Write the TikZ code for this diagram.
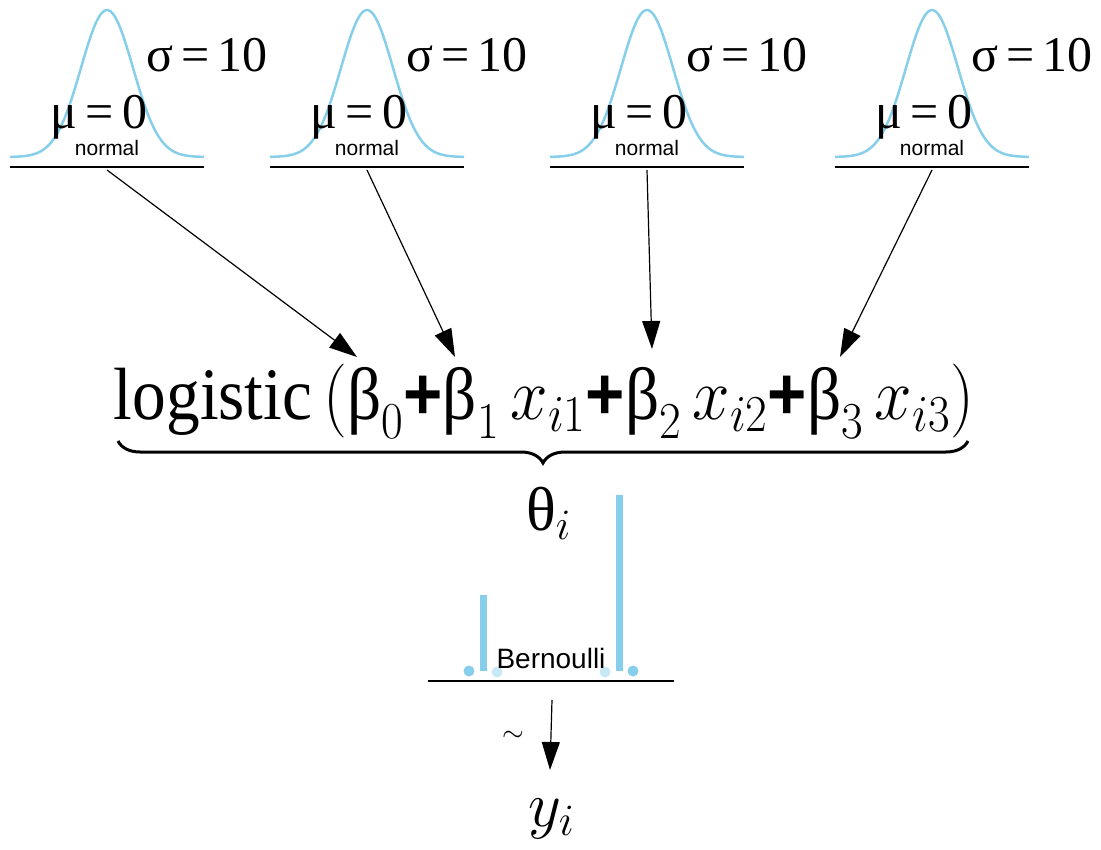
\RequirePackage{fix-cm}
\documentclass[tikz,border=0pt]{standalone}
\usepackage{fontspec}
\usepackage{graphicx}
\setmainfont{Liberation Serif}
\setsansfont{Liberation Sans}
\usetikzlibrary{arrows.meta,decorations.pathreplacing}

\definecolor{skyblue}{RGB}{135,206,235}
\definecolor{paleblue}{RGB}{200,232,246}

\newcommand*{\ybase}{157}
\newcommand*{\bt}[1]{\mbox{β}_{#1}}
\newcommand*{\pl}{\mbox{\sffamily\bfseries +}}

\begin{document}
\begin{tikzpicture}
[
	x=1pt,
	y=-1pt,
	density/.style={skyblue,line width=2.5pt},
	groundline/.style={black,line width=1.5pt},
	parlabel/.style={font=\fontsize{50}{50}\selectfont,inner sep=0pt,anchor=base},
	distname/.style={font=\sffamily\fontsize{21}{21}\selectfont,inner sep=0pt,anchor=base},
	link/.style={-{Triangle[length=28pt,width=18pt]},line width=1.2pt},
	stem/.style={skyblue,line width=7pt},
	underbrace/.style={decorate,decoration={brace,amplitude=22pt,mirror},line width=3pt}
]

	\useasboundingbox (0,0) rectangle (1101,850);

	% normal priors
	\foreach \cx/\nm in {107/pa,367/pb,647/pc,932/pd}{
		\draw[density] plot[domain=-97:97,samples=80] ({\cx+\x},{\ybase-147*exp(-(\x/26)^2/2)});
		\draw[groundline] (\cx-97,167) -- (\cx+97,167);
		\node[parlabel] at (\cx+100,72) {σ\,=\,10};
		\node[parlabel] at (\cx-8,129) {μ\,=\,0};
		\node[distname] at (\cx,156) {normal};
		\coordinate (\nm) at (\cx,170);
	}

	% linear predictor
	\node[inner sep=0pt,anchor=base,font=\fontsize{74}{80}\selectfont] (lin) at (544,420)
	  {\resizebox{860pt}{\height}{$\mbox{logistic}\left(\bt0\pl\bt1\,x_{i1}\pl\bt2\,x_{i2}\pl\bt3\,x_{i3}\right)$}};

	\coordinate (b0) at (357,357);
	\coordinate (b1) at (455,357);
	\coordinate (b2) at (652,349);
	\coordinate (b3) at (840,357);

	\draw[link] (pa) -- (b0);
	\draw[link] (pb) -- (b1);
	\draw[link] (pc) -- (b2);
	\draw[link] (pd) -- (b3);

	\draw[underbrace] (118,441) -- (968,441);

	\node[inner sep=0pt,anchor=base west,font=\fontsize{62}{62}\selectfont] (theta) at (526,530) {$\mbox{θ}_{i}$};

	% Bernoulli
	\fill[skyblue] (469,671) circle (5.5);
	\fill[paleblue] (497,672) circle (5.5);
	\fill[paleblue] (605,672) circle (5.5);
	\fill[skyblue] (633,671) circle (5.5);
	\draw[stem] (483,595) -- (483,671);
	\draw[stem] (619,495) -- (619,671);
	\node[inner sep=0pt,anchor=base,font=\sffamily\fontsize{28}{28}\selectfont] (bname) at (551,668) {Bernoulli};
	\draw[groundline] (428,681) -- (674,681);

	\coordinate (bern) at (552,700);
	\coordinate (ytip) at (550,770);
	\draw[link] (bern) -- (ytip);
	\node[inner sep=0pt,font=\fontsize{28}{28}\selectfont] (tilde) at (513,736) {$\sim$};

	\node[inner sep=0pt,anchor=base west,font=\fontsize{64}{64}\selectfont] (yi) at (528,826) {$y_i$};

\end{tikzpicture}
\end{document}
